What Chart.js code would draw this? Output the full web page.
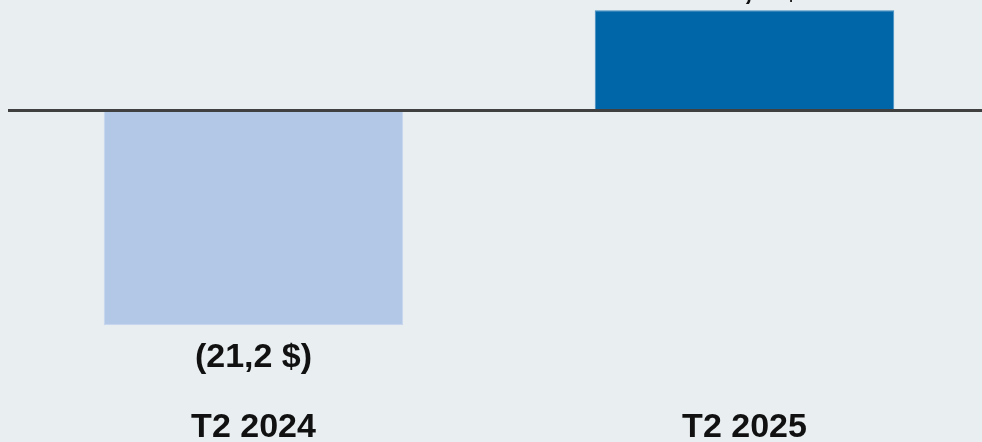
<!DOCTYPE html>
<html>
<head>
<meta charset="utf-8">
<script src="https://cdn.jsdelivr.net/npm/chart.js@4.4.1/dist/chart.umd.min.js"></script>
<style>
  html, body { margin: 0; padding: 0; background: #e9eef1; overflow: hidden; }
  #wrap { width: 990px; height: 442px; position: relative; }
</style>
</head>
<body>
<div id="wrap"><canvas id="chart-resultat"></canvas></div>
<script>
const categories = ["T2 2024", "T2 2025"];
const valeurs = [-21.2, 9.9];
const etiquettes = ["(21,2 $)", "9,9 $"];
const couleurs = ["#b3c7e6", "#0066a8"];
const bordures = ["#c6d5ee", "#3f8cc2"];

const police = "'Liberation Sans', Arial, sans-serif";

// étiquettes des barres, dessinées à la main (pas de plugin datalabels)
const pluginEtiquettes = {
  id: "etiquettes",
  afterDatasetsDraw(chart) {
    const ctx = chart.ctx;
    const meta = chart.getDatasetMeta(0);
    ctx.save();
    ctx.font = "bold 34px " + police;
    ctx.fillStyle = "#111111";
    ctx.textAlign = "center";
    ctx.textBaseline = "alphabetic";
    meta.data.forEach((barre, i) => {
      if (valeurs[i] < 0) {
        ctx.fillText(etiquettes[i], barre.x, barre.y + 42);
      } else {
        ctx.fillText(etiquettes[i], barre.x + 18, barre.y - 11);
      }
    });
    ctx.restore();
  }
};

const chartResultat = new Chart(document.getElementById("chart-resultat"), {
  type: "bar",
  data: {
    labels: categories,
    datasets: [{
      data: valeurs,
      backgroundColor: couleurs,
      borderColor: bordures,
      borderWidth: 1,
      barPercentage: 0.61,
      categoryPercentage: 1
    }]
  },
  options: {
    responsive: true,
    maintainAspectRatio: false,
    animation: false,
    layout: {
      padding: { left: 8, right: 0, top: 0, bottom: 0 }
    },
    plugins: {
      legend: { display: false },
      tooltip: { enabled: false }
    },
    scales: {
      x: {
        grid: { display: false },
        border: { display: false },
        ticks: {
          color: "#111111",
          padding: 7,
          font: { family: police, size: 34, weight: "bold" }
        },
        afterFit: (axis) => {
          axis.height = 50;
        }
      },
      y: {
        min: -27.8,
        max: 10.9,
        display: true,
        ticks: { display: false },
        border: { display: false },
        grid: {
          drawTicks: false,
          lineWidth: 3,
          color: (c) => (c.tick && c.tick.value === 0 ? "#404040" : "rgba(0,0,0,0)")
        },
        afterBuildTicks: (axis) => {
          axis.ticks = [{ value: 0 }];
        },
        afterFit: (axis) => {
          axis.width = 0;
        }
      }
    }
  },
  plugins: [pluginEtiquettes]
});
</script>
</body>
</html>
